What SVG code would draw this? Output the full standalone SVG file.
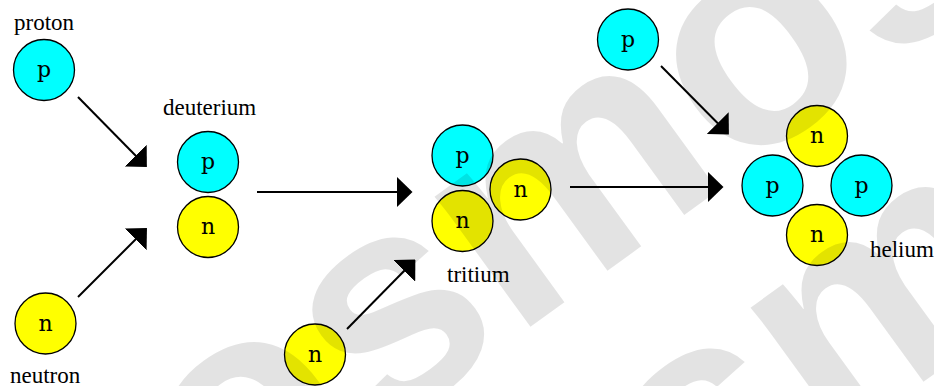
<svg xmlns="http://www.w3.org/2000/svg" width="934" height="386" viewBox="0 0 934 386">
  <defs>
    <style>
      .p { fill: #00ffff; stroke: #000; stroke-width: 1.3; }
      .n { fill: #ffff00; stroke: #000; stroke-width: 1.3; }
      .sym { font-family: "DejaVu Serif", "Liberation Serif", serif; font-size: 22px; text-anchor: middle; fill: #000; }
      .label { font-family: "Liberation Serif", "Times New Roman", serif; font-size: 23px; fill: #000; }
      .conn { stroke: #000; stroke-width: 2; fill: none; marker-end: url(#head); }
      .wm { font-family: "Liberation Sans", Arial, sans-serif; font-weight: bold; font-size: 306px; fill: #000; fill-opacity: 0.11; }
    </style>
    <marker id="head" viewBox="0 0 16 31" refX="0.5" refY="15.5" markerWidth="16" markerHeight="31" markerUnits="userSpaceOnUse" orient="auto">
      <path d="M0,0 L16,15.5 L0,31 Z" fill="#000"/>
    </marker>
  </defs>
  <rect width="934" height="386" fill="#fff"/>

  <!-- reaction arrows -->
  <g id="connectors">
    <path class="conn" d="M78,97 L136,156"/>
    <path class="conn" d="M78,297 L136,239"/>
    <path class="conn" d="M257,192 L397,192"/>
    <path class="conn" d="M347,329 L404.5,270.5"/>
    <path class="conn" d="M570,187 L708,187"/>
    <path class="conn" d="M661,66 L718,123.5"/>
  </g>

  <g id="proton">
    <circle class="p" cx="44" cy="70" r="30.5"/>
    <text class="sym" x="44" y="77">p</text>
    <text class="label" x="14" y="30">proton</text>
  </g>

  <g id="neutron">
    <circle class="n" cx="45.5" cy="323.5" r="30.5"/>
    <text class="sym" x="45.5" y="330.5">n</text>
    <text class="label" x="10" y="383">neutron</text>
  </g>

  <g id="deuterium">
    <circle class="p" cx="208" cy="162" r="30.5"/>
    <text class="sym" x="208" y="169">p</text>
    <circle class="n" cx="208" cy="227" r="30.5"/>
    <text class="sym" x="208" y="234">n</text>
    <text class="label" x="163" y="115">deuterium</text>
  </g>

  <g id="neutron-2">
    <circle class="n" cx="315" cy="354.5" r="30.5"/>
    <text class="sym" x="315" y="361.5">n</text>
  </g>

  <g id="tritium">
    <circle class="p" cx="462.5" cy="155.5" r="30.5"/>
    <text class="sym" x="462.5" y="162.5">p</text>
    <circle class="n" cx="462.5" cy="221" r="30.5"/>
    <text class="sym" x="462.5" y="228">n</text>
    <circle class="n" cx="520.5" cy="189.5" r="30.5"/>
    <text class="sym" x="520.5" y="196.5">n</text>
    <text class="label" x="447" y="282">tritium</text>
  </g>

  <g id="proton-2">
    <circle class="p" cx="628" cy="39.5" r="30.5"/>
    <text class="sym" x="628" y="46.5">p</text>
  </g>

  <g id="helium">
    <circle class="n" cx="817" cy="136" r="30.5"/>
    <text class="sym" x="817" y="143">n</text>
    <circle class="p" cx="772.5" cy="185.5" r="30.5"/>
    <text class="sym" x="772.5" y="192.5">p</text>
    <circle class="p" cx="861.5" cy="185.5" r="30.5"/>
    <text class="sym" x="861.5" y="192.5">p</text>
    <circle class="n" cx="817" cy="235" r="30.5"/>
    <text class="sym" x="817" y="242">n</text>
    <text class="label" x="870" y="256.5">helium</text>
  </g>

  <!-- faint diagonal watermark laid over the drawing -->
  <g id="watermark">
    <text class="wm" transform="translate(86.6,649.3) rotate(-36)">cosmos</text>
    <text class="wm" transform="translate(402.6,760.3) rotate(-36)">cosmos</text>
  </g>
</svg>
